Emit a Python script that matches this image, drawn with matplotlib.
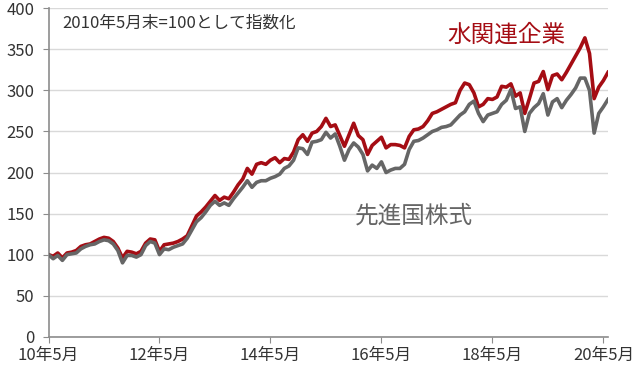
import numpy as np
import matplotlib
matplotlib.use("Agg")
import matplotlib.pyplot as plt

plt.rcParams['font.family'] = ['Noto Sans CJK JP', 'DejaVu Sans']

# monthly index values, 2010/5 .. 2020/6 (2010/5 end = 100)
water = [100, 98, 102, 96, 102, 103, 105, 110, 112, 113,
         116, 119, 121, 120, 116, 108, 96, 104, 103, 101,
         104, 114, 119, 118, 104, 112, 113, 114, 116, 119,
         123, 135, 147, 152, 158, 165, 172, 166, 170, 168,
         176, 185, 192, 205, 198, 210, 212, 210, 215, 218,
         212, 217, 216, 225, 240, 246, 238, 248, 250, 256,
         266, 256, 258, 245, 232, 246, 260, 245, 240, 222,
         233, 238, 243, 230, 234, 234, 233, 230, 244, 252,
         253, 256, 263, 272, 274, 277, 280, 283, 285, 300,
         309, 307, 297, 280, 283, 290, 289, 292, 305, 304,
         308, 293, 297, 272, 290, 309, 311, 323, 301, 318,
         320, 313, 322, 332, 342, 352, 364, 345, 290, 304,
         312, 322]
world = [100, 95, 99, 93, 100, 101, 102, 107, 110, 112,
         113, 116, 118, 117, 113, 105, 90, 99, 99, 97,
         100, 111, 116, 114, 100, 107, 106, 109, 111, 113,
         120, 130, 140, 145, 152, 160, 165, 160, 163, 160,
         168, 175, 182, 190, 182, 188, 190, 190, 193, 195,
         198, 205, 208, 215, 230, 229, 222, 237, 238, 240,
         249, 242, 247, 232, 215, 228, 236, 231, 222, 202,
         209, 205, 213, 200, 203, 205, 205, 210, 228, 238,
         239, 242, 246, 250, 252, 255, 256, 258, 264, 270,
         274, 283, 287, 272, 262, 270, 272, 274, 283, 288,
         301, 278, 280, 250, 272, 279, 284, 296, 270, 286,
         290, 279, 288, 295, 303, 315, 315, 300, 248, 272,
         280, 289]
tick_months = [0, 24, 48, 72, 96, 120]
tick_labels = ['10年5月', '12年5月', '14年5月', '16年5月', '18年5月', '20年5月']

months = np.arange(len(water))

fig = plt.figure(figsize=(6.4, 3.68), dpi=100)
ax = fig.add_axes([0.0758, 0.085, 0.8742, 0.8924])

ax.plot(months, water, color='#a50d14', lw=2.6, solid_joinstyle='round', zorder=3)
ax.plot(months, world, color='#666666', lw=2.6, solid_joinstyle='round', zorder=4)

ax.set_xlim(0, 121)
ax.set_ylim(0, 400)
ax.set_yticks(np.arange(0, 401, 50))
ax.set_xticks(tick_months)
ax.set_xticklabels(tick_labels)
ax.grid(axis='y', color='#d9d9d9', lw=1)
ax.set_axisbelow(True)

for s in ['top', 'right']:
    ax.spines[s].set_visible(False)
for s in ['left', 'bottom']:
    ax.spines[s].set_color('#8c8c8c')
    ax.spines[s].set_linewidth(1.2)
ax.tick_params(axis='both', colors='#8c8c8c', length=4, labelsize=12,
               labelcolor='#333333')
ax.tick_params(axis='y', pad=6)
ax.tick_params(axis='x', pad=3)

ax.text(0.024, 0.955, '2010年5月末=100として指数化', transform=ax.transAxes,
        fontsize=12, color='#333333', va='center', ha='left')
ax.text(0.818, 0.917, '水関連企業', transform=ax.transAxes,
        fontsize=17, color='#a50d14', ha='center', va='center')
ax.text(0.653, 0.368, '先進国株式', transform=ax.transAxes,
        fontsize=17, color='#666666', ha='center', va='center')

fig.savefig('out.png', dpi=100)
